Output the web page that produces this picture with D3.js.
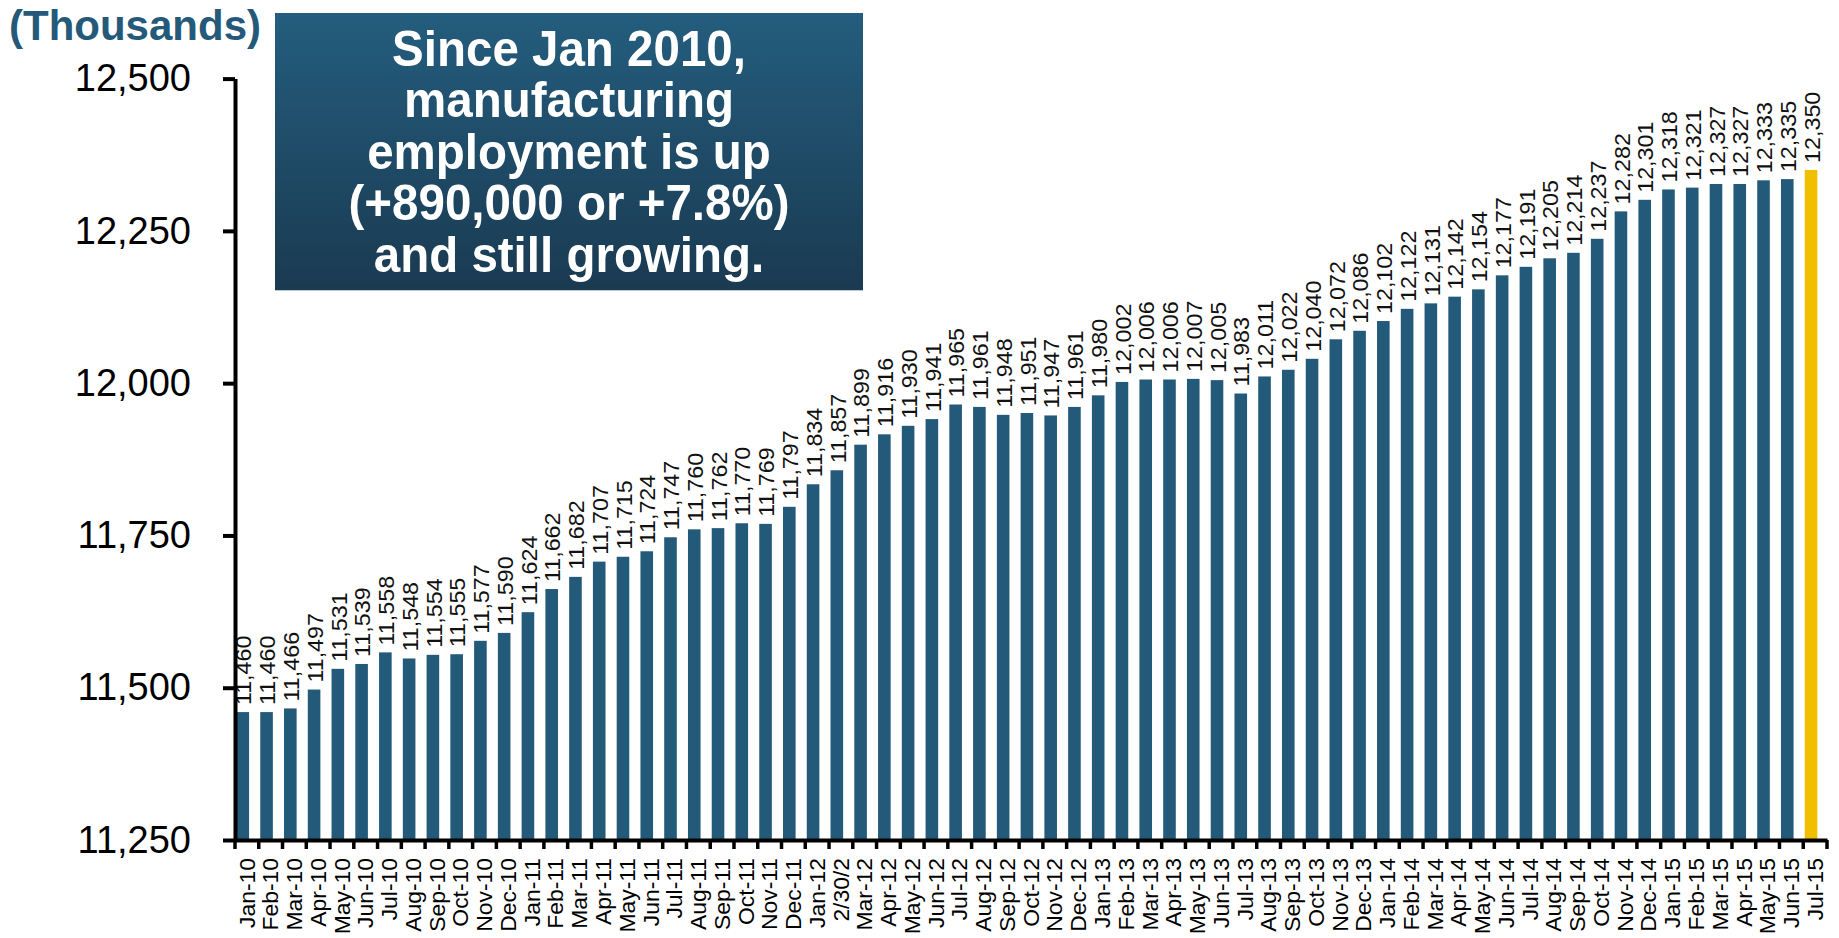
<!DOCTYPE html>
<html>
<head>
<meta charset="utf-8">
<script src="https://cdn.jsdelivr.net/npm/d3@7"></script>
<style>
  html, body { margin: 0; padding: 0; background: #ffffff; }
  svg { display: block; }
  text { font-family: "Liberation Sans", Arial, sans-serif; }
</style>
</head>
<body>
<svg id="chart" width="1839" height="938"></svg>
<script>
const categories = [
  "Jan-10","Feb-10","Mar-10","Apr-10","May-10","Jun-10","Jul-10","Aug-10","Sep-10","Oct-10","Nov-10","Dec-10",
  "Jan-11","Feb-11","Mar-11","Apr-11","May-11","Jun-11","Jul-11","Aug-11","Sep-11","Oct-11","Nov-11","Dec-11",
  "Jan-12","2/30/2","Mar-12","Apr-12","May-12","Jun-12","Jul-12","Aug-12","Sep-12","Oct-12","Nov-12","Dec-12",
  "Jan-13","Feb-13","Mar-13","Apr-13","May-13","Jun-13","Jul-13","Aug-13","Sep-13","Oct-13","Nov-13","Dec-13",
  "Jan-14","Feb-14","Mar-14","Apr-14","May-14","Jun-14","Jul-14","Aug-14","Sep-14","Oct-14","Nov-14","Dec-14",
  "Jan-15","Feb-15","Mar-15","Apr-15","May-15","Jun-15","Jul-15"
];
const employment = [
  11460, 11460, 11466, 11497, 11531, 11539, 11558, 11548, 11554, 11555, 11577, 11590,
  11624, 11662, 11682, 11707, 11715, 11724, 11747, 11760, 11762, 11770, 11769, 11797,
  11834, 11857, 11899, 11916, 11930, 11941, 11965, 11961, 11948, 11951, 11947, 11961,
  11980, 12002, 12006, 12006, 12007, 12005, 11983, 12011, 12022, 12040, 12072, 12086,
  12102, 12122, 12131, 12142, 12154, 12177, 12191, 12205, 12214, 12237, 12282, 12301,
  12318, 12321, 12327, 12327, 12333, 12335, 12350
];
const yTicks = [11250, 11500, 11750, 12000, 12250, 12500];
const highlightCategory = "Jul-15";
const unitLabel = "(Thousands)";
const calloutLines = [
  "Since Jan 2010,",
  "manufacturing",
  "employment is up",
  "(+890,000 or +7.8%)",
  "and still growing."
];

const data = categories.map((c, i) => ({ cat: c, value: employment[i] }));

const svg = d3.select("#chart");
const BAR = "#235a7a", HIGHLIGHT = "#efbf00", TEAL = "#24597a";

const x = d3.scaleBand().domain(categories).range([235, 1827]).paddingInner(0).paddingOuter(0);
const y = d3.scaleLinear().domain([11250, 12500]).range([840, 78.6]);
const bw = x.bandwidth();
const fmt = d3.format(",");

// Bars
svg.append("g").selectAll("rect").data(data).join("rect")
  .attr("x", d => x(d.cat) + 1.5)
  .attr("width", bw * 0.53)
  .attr("y", d => y(d.value))
  .attr("height", d => y(11250) - y(d.value))
  .attr("fill", d => d.cat === highlightCategory ? HIGHLIGHT : BAR);

// Value labels
svg.append("g").selectAll("text").data(data).join("text")
  .attr("transform", d => `translate(${x(d.cat) + 1.5 + bw * 0.265 + 1},${y(d.value) - 7}) rotate(-90) scale(1.06,1)`)
  .attr("dy", "0.35em")
  .attr("text-anchor", "start")
  .attr("font-size", 22)
  .attr("fill", "#111")
  .text(d => fmt(d.value));

// Y axis
const yAxis = d3.axisLeft(y).tickValues(yTicks).tickFormat(fmt).tickSize(12).tickSizeOuter(0).tickPadding(32);
const gy = svg.append("g").attr("transform", "translate(235,0)").call(yAxis);
gy.select(".domain").attr("stroke", "#000").attr("stroke-width", 4);
gy.selectAll(".tick line").attr("stroke", "#000").attr("stroke-width", 4);
gy.selectAll(".tick text").attr("font-size", 38).attr("fill", "#000")
  .attr("font-family", "'Liberation Sans', Arial, sans-serif");

// X axis (labels via d3 axis, boundary ticks drawn from band scale)
const xAxis = d3.axisBottom(x).tickSize(0).tickSizeOuter(0).tickPadding(0);
const gx = svg.append("g").attr("transform", "translate(0,840)").call(xAxis);
gx.select(".domain").attr("stroke", "#000").attr("stroke-width", 4);
gx.selectAll(".tick text")
  .attr("font-size", 22).attr("fill", "#000")
  .attr("font-family", "'Liberation Sans', Arial, sans-serif")
  .attr("text-anchor", "end")
  .attr("x", 0).attr("y", 0).attr("dy", "0.35em")
  .attr("transform", "translate(0,18) rotate(-90) scale(1.04,1)");

const boundaries = categories.map(c => x(c)).concat([x.range()[1]]);
svg.append("g").selectAll("line").data(boundaries).join("line")
  .attr("x1", d => d).attr("x2", d => d)
  .attr("y1", 840).attr("y2", 849)
  .attr("stroke", "#000").attr("stroke-width", 3.5);

// Unit label
svg.append("text")
  .attr("x", 9).attr("y", 40)
  .attr("font-size", 42).attr("font-weight", "bold")
  .attr("fill", TEAL)
  .text(unitLabel);

// Callout box
const defs = svg.append("defs");
const grad = defs.append("linearGradient").attr("id", "boxGrad")
  .attr("x1", 0).attr("y1", 0).attr("x2", 0).attr("y2", 1);
grad.append("stop").attr("offset", "0%").attr("stop-color", "#245d7e");
grad.append("stop").attr("offset", "100%").attr("stop-color", "#1a3a51");

const box = { x: 275, y: 13, w: 588, h: 277 };
svg.append("rect")
  .attr("x", box.x).attr("y", box.y).attr("width", box.w).attr("height", box.h)
  .attr("fill", "url(#boxGrad)");
svg.append("line")
  .attr("x1", box.x).attr("x2", box.x + box.w)
  .attr("y1", box.y + box.h + 0.5).attr("y2", box.y + box.h + 0.5)
  .attr("stroke", "#b8c8d4").attr("stroke-width", 1);

svg.append("g").selectAll("text").data(calloutLines).join("text")
  .attr("transform", (d, i) => `translate(${box.x + box.w / 2},${48 + i * 51.6}) scale(1,1.06)`)
  .attr("dy", "0.35em")
  .attr("text-anchor", "middle")
  .attr("font-size", 47.5).attr("font-weight", "bold")
  .attr("fill", "#ffffff")
  .text(d => d);
</script>
</body>
</html>
